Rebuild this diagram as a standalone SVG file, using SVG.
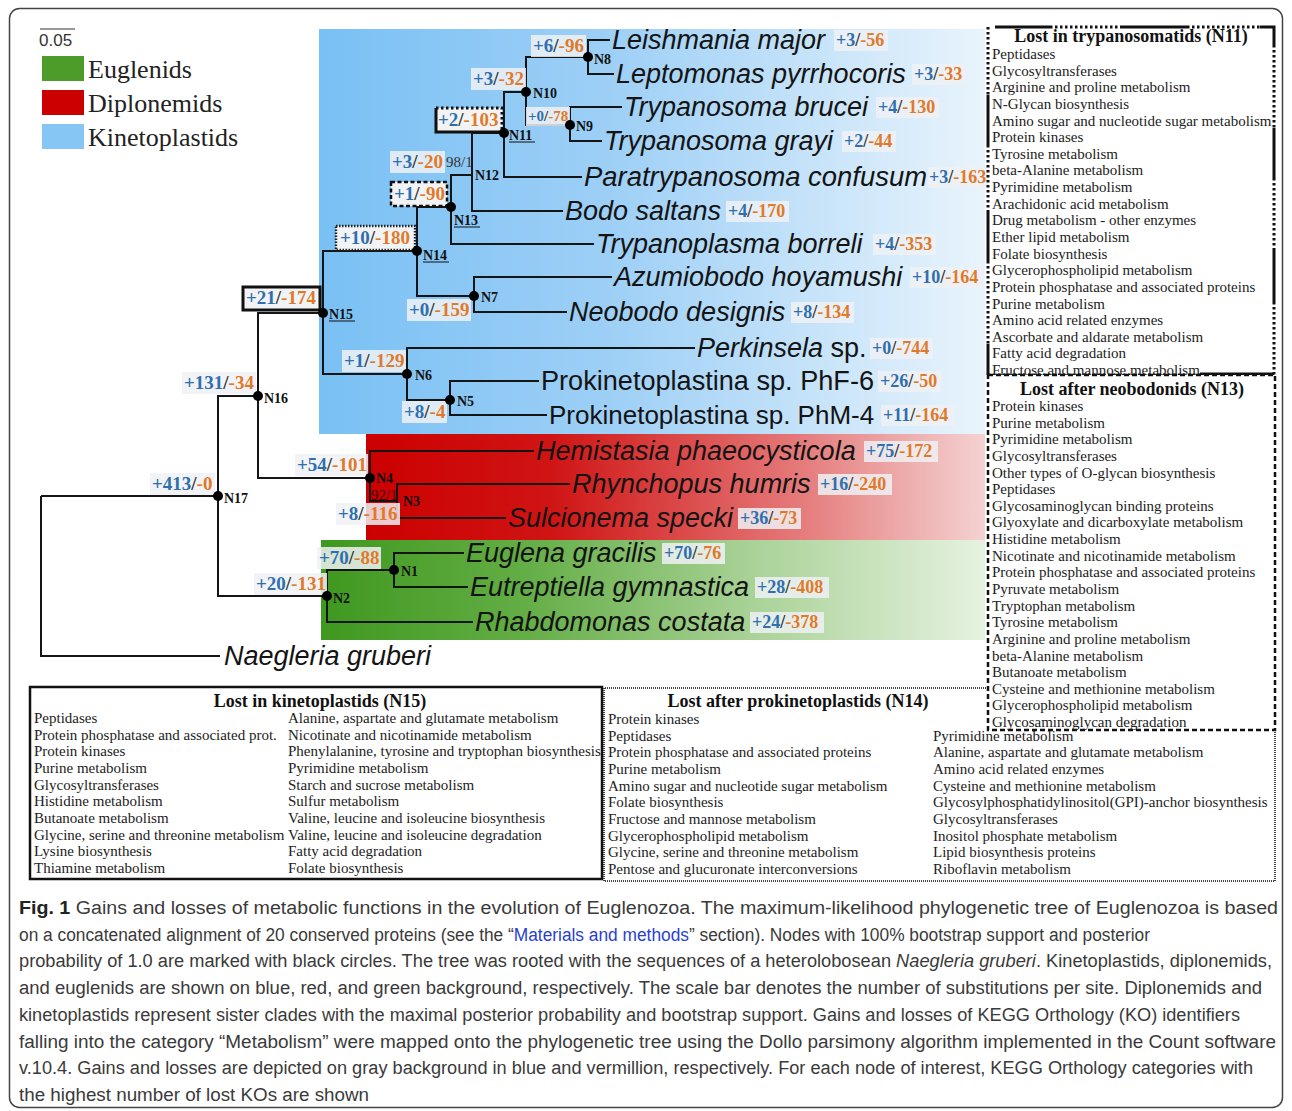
<svg xmlns="http://www.w3.org/2000/svg" width="1292" height="1111" viewBox="0 0 1292 1111">
<defs>
<linearGradient id="gBlue" gradientUnits="userSpaceOnUse" x1="319" y1="0" x2="985" y2="0">
<stop offset="0" stop-color="#79c0f4"/><stop offset="0.45" stop-color="#9fd0f6"/><stop offset="1" stop-color="#e9f4fc"/>
</linearGradient>
<linearGradient id="gRed" gradientUnits="userSpaceOnUse" x1="366" y1="0" x2="985" y2="0">
<stop offset="0" stop-color="#cc0000"/><stop offset="0.3" stop-color="#d01414"/><stop offset="0.7" stop-color="#e57a7a"/><stop offset="1" stop-color="#f4d2d2"/>
</linearGradient>
<linearGradient id="gGreen" gradientUnits="userSpaceOnUse" x1="321" y1="0" x2="985" y2="0">
<stop offset="0" stop-color="#3f981f"/><stop offset="0.3" stop-color="#62ad44"/><stop offset="0.65" stop-color="#a9d297"/><stop offset="1" stop-color="#e6f2e0"/>
</linearGradient>
<style>
.t{font-family:"Liberation Sans",Arial,sans-serif;font-style:italic;font-size:27px;fill:#141414}
.tn{font-style:normal}
.gl{font-family:"Liberation Serif","Times New Roman",serif;font-size:19px;font-weight:bold}
.tg{font-family:"Liberation Serif","Times New Roman",serif;font-size:18px;font-weight:bold}
.g{fill:#2f6fae}.l{fill:#e07a2a}.s{fill:#333}
.nn{font-family:"Liberation Serif","Times New Roman",serif;font-size:14px;font-weight:bold;fill:#111}
.bs{font-family:"Liberation Serif","Times New Roman",serif;font-size:15px;fill:#333}
.bx{font-family:"Liberation Serif","Times New Roman",serif;font-size:15px;fill:#222}
.bt{font-family:"Liberation Serif","Times New Roman",serif;font-size:18px;font-weight:bold;fill:#111;text-anchor:middle}
.lbg{fill:#eef1f4;fill-opacity:0.85}
.edge{fill:none;stroke:#151515;stroke-width:2}
.dot{fill:#000}
.ul{stroke:#111;stroke-width:1}
.cap{font-family:"Liberation Sans",Arial,sans-serif;font-size:18px;fill:#3a3a3a}
.leg{font-family:"Liberation Serif","Times New Roman",serif;font-size:26px;fill:#222}
.dotted{fill:none;stroke:#111;stroke-width:3;stroke-dasharray:2.5 2.5}
.solid{fill:none;stroke:#111;stroke-width:3}
</style>
</defs>
<rect x="0" y="0" width="1292" height="1111" fill="#fff"/>
<rect x="9.5" y="8.5" width="1273" height="1099" rx="10" fill="#fff" stroke="#444" stroke-width="1.5"/>

<!-- backgrounds -->
<g id="clade-backgrounds">
<rect x="319" y="29" width="666" height="405" fill="url(#gBlue)"/>
<rect x="366" y="434" width="619" height="106" fill="url(#gRed)"/>
<rect x="321" y="540" width="664" height="100" fill="url(#gGreen)"/>
</g>

<!-- legend -->
<g id="legend">
<line x1="40" y1="29" x2="75" y2="29" stroke="#333" stroke-width="1"/>
<text x="39" y="46" font-family="Liberation Sans, Arial, sans-serif" font-size="17" fill="#333">0.05</text>
<rect x="42" y="56" width="42" height="25" fill="#4d9c2a"/>
<text class="leg" x="88" y="78">Euglenids</text>
<rect x="42" y="90" width="42" height="25" fill="#cc0000"/>
<text class="leg" x="88" y="112">Diplonemids</text>
<rect x="42" y="124" width="42" height="25" fill="#86c6f4"/>
<text class="leg" x="88" y="146">Kinetoplastids</text>
</g>

<!-- connectors -->
<g id="connectors" class="edge">
<path d="M41,496 H218 M41,496 V656 H220"/>
<path d="M258,396 H218 V596 H327"/>
<path d="M323,313 H258 V478 H370"/>
<path d="M417,251 H323 V374 H407"/>
<path d="M451,207 H417 V296 H474"/>
<path d="M472,175 H451 V244 H594"/>
<path d="M504,133 H472 V211 H563"/>
<path d="M526,92 H504 V177 H582"/>
<path d="M588,57 H526 V125 H570"/>
<path d="M622,107 H570 V141 H602"/>
<path d="M610,40 H588 V74 H614"/>
<path d="M612,277 H474 V312 H567"/>
<path d="M695,348 H407 V400 H450"/>
<path d="M539,381 H450 V415 H547"/>
<path d="M534,451 H370 V501 H397"/>
<path d="M570,484 H397 V518 H506"/>
<path d="M394,570 H327 V622 H473"/>
<path d="M464,553 H394 V587 H468"/>
</g>

<!-- internal nodes -->
<g id="N17">
<rect class="lbg" x="150" y="473" width="65" height="22"/>
<text class="gl" x="152" y="490"><tspan class="g">+413</tspan><tspan class="s">/</tspan><tspan class="l">-0</tspan></text>
<circle class="dot" cx="218" cy="496" r="5"/>
<text class="nn" x="224" y="503">N17</text>
</g>
<g id="N16">
<rect class="lbg" x="182" y="372" width="74" height="22"/>
<text class="gl" x="184" y="389"><tspan class="g">+131</tspan><tspan class="s">/</tspan><tspan class="l">-34</tspan></text>
<circle class="dot" cx="258" cy="396" r="5"/>
<text class="nn" x="264" y="403">N16</text>
</g>
<g id="N15">
<rect x="243" y="287" width="77" height="23" fill="#f2f3f5" stroke="#111" stroke-width="3"/>
<text class="gl" x="246" y="304"><tspan class="g">+21</tspan><tspan class="s">/</tspan><tspan class="l">-174</tspan></text>
<circle class="dot" cx="323" cy="313" r="5"/>
<text class="nn" x="329" y="319">N15</text>
<line class="ul" x1="329" y1="321" x2="355" y2="321"/>
</g>
<g id="N14">
<rect x="336" y="226" width="79" height="24" fill="#f2f3f5" stroke="#222" stroke-width="2.5" stroke-dasharray="1.5 1.5"/>
<text class="gl" x="340" y="244"><tspan class="g">+10</tspan><tspan class="s">/</tspan><tspan class="l">-180</tspan></text>
<circle class="dot" cx="417" cy="251" r="5"/>
<text class="nn" x="423" y="260">N14</text>
<line class="ul" x1="423" y1="262" x2="449" y2="262"/>
</g>
<g id="N13">
<rect x="391" y="182" width="56" height="24" fill="#f2f3f5" stroke="#111" stroke-width="2.5" stroke-dasharray="4 2.5"/>
<text class="gl" x="394" y="200"><tspan class="g">+1</tspan><tspan class="s">/</tspan><tspan class="l">-90</tspan></text>
<circle class="dot" cx="451" cy="207" r="5"/>
<text class="nn" x="454" y="225">N13</text>
<line class="ul" x1="454" y1="227" x2="480" y2="227"/>
</g>
<g id="N12">
<rect class="lbg" x="390" y="151" width="55" height="22"/>
<text class="gl" x="392" y="168"><tspan class="g">+3</tspan><tspan class="s">/</tspan><tspan class="l">-20</tspan></text>
<text class="bs" x="446" y="167">98/1</text>
<text class="nn" x="475" y="180">N12</text>
</g>
<g id="N11">
<rect x="436" y="108" width="66" height="24" fill="#f2f3f5"/>
<path class="dotted" d="M436,108 H502 V132"/>
<path class="solid" d="M436,108 V132 H502"/>
<text class="gl" x="438" y="126"><tspan class="g">+2</tspan><tspan class="s">/</tspan><tspan class="l">-103</tspan></text>
<circle class="dot" cx="504" cy="133" r="5"/>
<text class="nn" x="509" y="140">N11</text>
<line class="ul" x1="509" y1="142" x2="535" y2="142"/>
</g>
<g id="N10">
<rect class="lbg" x="471" y="68" width="55" height="22"/>
<text class="gl" x="473" y="85"><tspan class="g">+3</tspan><tspan class="s">/</tspan><tspan class="l">-32</tspan></text>
<circle class="dot" cx="526" cy="92" r="5"/>
<text class="nn" x="533" y="98">N10</text>
</g>
<g id="N9">
<rect class="lbg" x="526" y="107" width="44" height="19"/>
<text class="gl" x="528" y="121" style="font-size:15px"><tspan class="g">+0</tspan><tspan class="s">/</tspan><tspan class="l">-78</tspan></text>
<circle class="dot" cx="570" cy="125" r="5"/>
<text class="nn" x="576" y="131">N9</text>
</g>
<g id="N8">
<rect class="lbg" x="531" y="35" width="55" height="22"/>
<text class="gl" x="533" y="52"><tspan class="g">+6</tspan><tspan class="s">/</tspan><tspan class="l">-96</tspan></text>
<circle class="dot" cx="588" cy="57" r="5"/>
<text class="nn" x="594" y="64">N8</text>
</g>
<g id="N7">
<rect class="lbg" x="407" y="299" width="64" height="22"/>
<text class="gl" x="409" y="316"><tspan class="g">+0</tspan><tspan class="s">/</tspan><tspan class="l">-159</tspan></text>
<circle class="dot" cx="474" cy="296" r="5"/>
<text class="nn" x="481" y="302">N7</text>
</g>
<g id="N6">
<rect class="lbg" x="342" y="350" width="64" height="22"/>
<text class="gl" x="344" y="367"><tspan class="g">+1</tspan><tspan class="s">/</tspan><tspan class="l">-129</tspan></text>
<circle class="dot" cx="407" cy="374" r="5"/>
<text class="nn" x="415" y="380">N6</text>
</g>
<g id="N5">
<rect class="lbg" x="402" y="401" width="45" height="22"/>
<text class="gl" x="404" y="418"><tspan class="g">+8</tspan><tspan class="s">/</tspan><tspan class="l">-4</tspan></text>
<circle class="dot" cx="450" cy="400" r="5"/>
<text class="nn" x="457" y="406">N5</text>
</g>
<g id="N4">
<rect class="lbg" x="295" y="454" width="73" height="22"/>
<text class="gl" x="297" y="471"><tspan class="g">+54</tspan><tspan class="s">/</tspan><tspan class="l">-101</tspan></text>
<circle class="dot" cx="370" cy="478" r="5"/>
<text class="nn" x="376" y="483">N4</text>
</g>
<g id="N3">
<rect class="lbg" x="336" y="503" width="64" height="22"/>
<text class="gl" x="338" y="520"><tspan class="g">+8</tspan><tspan class="s">/</tspan><tspan class="l">-116</tspan></text>
<text class="bs" x="371" y="500" style="fill:#3a0000">92/1</text>
<text class="nn" x="403" y="506">N3</text>
</g>
<g id="N2">
<rect class="lbg" x="254" y="573" width="73" height="22"/>
<text class="gl" x="256" y="590"><tspan class="g">+20</tspan><tspan class="s">/</tspan><tspan class="l">-131</tspan></text>
<circle class="dot" cx="327" cy="596" r="5"/>
<text class="nn" x="333" y="603">N2</text>
</g>
<g id="N1">
<rect class="lbg" x="317" y="547" width="64" height="22"/>
<text class="gl" x="319" y="564"><tspan class="g">+70</tspan><tspan class="s">/</tspan><tspan class="l">-88</tspan></text>
<circle class="dot" cx="394" cy="570" r="5"/>
<text class="nn" x="401" y="576">N1</text>
</g>

<!-- tips -->
<g id="tip-leishmania"><text class="t" x="612" y="49">Leishmania major</text>
<rect class="lbg" x="834" y="30" width="54" height="21"/><text class="tg" x="836" y="46"><tspan class="g">+3</tspan><tspan class="s">/</tspan><tspan class="l">-56</tspan></text></g>
<g id="tip-leptomonas"><text class="t" x="616" y="83">Leptomonas pyrrhocoris</text>
<rect class="lbg" x="912" y="64" width="54" height="21"/><text class="tg" x="914" y="80"><tspan class="g">+3</tspan><tspan class="s">/</tspan><tspan class="l">-33</tspan></text></g>
<g id="tip-brucei"><text class="t" x="624" y="116">Trypanosoma brucei</text>
<rect class="lbg" x="876" y="97" width="63" height="21"/><text class="tg" x="878" y="113"><tspan class="g">+4</tspan><tspan class="s">/</tspan><tspan class="l">-130</tspan></text></g>
<g id="tip-grayi"><text class="t" x="604" y="150">Trypanosoma grayi</text>
<rect class="lbg" x="842" y="131" width="54" height="21"/><text class="tg" x="844" y="147"><tspan class="g">+2</tspan><tspan class="s">/</tspan><tspan class="l">-44</tspan></text></g>
<g id="tip-paratrypanosoma"><text class="t" x="584" y="186" textLength="343" lengthAdjust="spacingAndGlyphs">Paratrypanosoma confusum</text>
<rect class="lbg" x="928" y="167" width="60" height="21"/><text class="tg" x="929" y="183"><tspan class="g">+3</tspan><tspan class="s">/</tspan><tspan class="l">-163</tspan></text></g>
<g id="tip-bodo"><text class="t" x="565" y="220">Bodo saltans</text>
<rect class="lbg" x="726" y="201" width="63" height="21"/><text class="tg" x="728" y="217"><tspan class="g">+4</tspan><tspan class="s">/</tspan><tspan class="l">-170</tspan></text></g>
<g id="tip-trypanoplasma"><text class="t" x="596" y="253">Trypanoplasma borreli</text>
<rect class="lbg" x="873" y="234" width="63" height="21"/><text class="tg" x="875" y="250"><tspan class="g">+4</tspan><tspan class="s">/</tspan><tspan class="l">-353</tspan></text></g>
<g id="tip-azumiobodo"><text class="t" x="614" y="286">Azumiobodo hoyamushi</text>
<rect class="lbg" x="910" y="267" width="74" height="21"/><text class="tg" x="912" y="283"><tspan class="g">+10</tspan><tspan class="s">/</tspan><tspan class="l">-164</tspan></text></g>
<g id="tip-neobodo"><text class="t" x="569" y="321">Neobodo designis</text>
<rect class="lbg" x="791" y="302" width="63" height="21"/><text class="tg" x="793" y="318"><tspan class="g">+8</tspan><tspan class="s">/</tspan><tspan class="l">-134</tspan></text></g>
<g id="tip-perkinsela"><text class="t" x="697" y="357">Perkinsela <tspan class="tn">sp.</tspan></text>
<rect class="lbg" x="870" y="338" width="63" height="21"/><text class="tg" x="872" y="354"><tspan class="g">+0</tspan><tspan class="s">/</tspan><tspan class="l">-744</tspan></text></g>
<g id="tip-phf6"><text class="t tn" x="541" y="390" textLength="333" lengthAdjust="spacingAndGlyphs">Prokinetoplastina sp. PhF-6</text>
<rect class="lbg" x="878" y="371" width="63" height="21"/><text class="tg" x="880" y="387"><tspan class="g">+26</tspan><tspan class="s">/</tspan><tspan class="l">-50</tspan></text></g>
<g id="tip-phm4"><text class="t tn" x="549" y="424" style="font-size:26px">Prokinetoplastina sp. PhM-4</text>
<rect class="lbg" x="881" y="405" width="74" height="21"/><text class="tg" x="883" y="421"><tspan class="g">+11</tspan><tspan class="s">/</tspan><tspan class="l">-164</tspan></text></g>
<g id="tip-hemistasia"><text class="t" x="536" y="460">Hemistasia phaeocysticola</text>
<rect class="lbg" x="864" y="441" width="74" height="21"/><text class="tg" x="866" y="457"><tspan class="g">+75</tspan><tspan class="s">/</tspan><tspan class="l">-172</tspan></text></g>
<g id="tip-rhynchopus"><text class="t" x="572" y="493">Rhynchopus humris</text>
<rect class="lbg" x="818" y="474" width="74" height="21"/><text class="tg" x="820" y="490"><tspan class="g">+16</tspan><tspan class="s">/</tspan><tspan class="l">-240</tspan></text></g>
<g id="tip-sulcionema"><text class="t" x="508" y="527">Sulcionema specki</text>
<rect class="lbg" x="738" y="508" width="63" height="21"/><text class="tg" x="740" y="524"><tspan class="g">+36</tspan><tspan class="s">/</tspan><tspan class="l">-73</tspan></text></g>
<g id="tip-euglena"><text class="t" x="466" y="562">Euglena gracilis</text>
<rect class="lbg" x="662" y="543" width="63" height="21"/><text class="tg" x="664" y="559"><tspan class="g">+70</tspan><tspan class="s">/</tspan><tspan class="l">-76</tspan></text></g>
<g id="tip-eutreptiella"><text class="t" x="470" y="596">Eutreptiella gymnastica</text>
<rect class="lbg" x="755" y="577" width="74" height="21"/><text class="tg" x="757" y="593"><tspan class="g">+28</tspan><tspan class="s">/</tspan><tspan class="l">-408</tspan></text></g>
<g id="tip-rhabdomonas"><text class="t" x="475" y="631">Rhabdomonas costata</text>
<rect class="lbg" x="750" y="612" width="74" height="21"/><text class="tg" x="752" y="628"><tspan class="g">+24</tspan><tspan class="s">/</tspan><tspan class="l">-378</tspan></text></g>
<g id="tip-naegleria"><text class="t" x="224" y="665">Naegleria gruberi</text></g>

<!-- Box N11 -->
<g id="box-N11">
<rect x="988" y="27" width="287" height="348" fill="#fff"/>
<path class="dotted" d="M988,27 V95 M988,145 V211 M988,261 V344 M1050,27 H1120 M1187,27 H1260 M1274,45 V128 M1274,178 V248 M1274,302 V375 M988,375 H1200"/>
<path class="solid" d="M988,95 V145 M988,211 V261 M988,344 V375 M995,27 H1050 M1120,27 H1187 M1260,27 H1274 V45 M1274,128 V178 M1274,248 V302 M1200,374 H1274"/>
<text class="bt" x="1131" y="42">Lost in trypanosomatids (N11)</text>
<g class="bx">
<text x="992" y="59">Peptidases</text>
<text x="992" y="75.6">Glycosyltransferases</text>
<text x="992" y="92.3">Arginine and proline metabolism</text>
<text x="992" y="108.9">N-Glycan biosynthesis</text>
<text x="992" y="125.5">Amino sugar and nucleotide sugar metabolism</text>
<text x="992" y="142.2">Protein kinases</text>
<text x="992" y="158.8">Tyrosine metabolism</text>
<text x="992" y="175.4">beta-Alanine metabolism</text>
<text x="992" y="192">Pyrimidine metabolism</text>
<text x="992" y="208.7">Arachidonic acid metabolism</text>
<text x="992" y="225.3">Drug metabolism - other enzymes</text>
<text x="992" y="241.9">Ether lipid metabolism</text>
<text x="992" y="258.6">Folate biosynthesis</text>
<text x="992" y="275.2">Glycerophospholipid metabolism</text>
<text x="992" y="291.8">Protein phosphatase and associated proteins</text>
<text x="992" y="308.5">Purine metabolism</text>
<text x="992" y="325.1">Amino acid related enzymes</text>
<text x="992" y="341.7">Ascorbate and aldarate metabolism</text>
<text x="992" y="358.3">Fatty acid degradation</text>
<text x="992" y="375">Fructose and mannose metabolism</text>
</g>
</g>

<!-- Box N14 -->
<g id="box-N14">
<path d="M988,688 H604 V881 H1275 V730" fill="none" stroke="#444" stroke-width="2" stroke-dasharray="1 1"/>
<text class="bt" x="798" y="707">Lost after prokinetoplastids (N14)</text>
<g class="bx">
<text x="608" y="724">Protein kinases</text>
<text x="608" y="740.7">Peptidases</text>
<text x="608" y="757.3">Protein phosphatase and associated proteins</text>
<text x="608" y="774">Purine metabolism</text>
<text x="608" y="790.7">Amino sugar and nucleotide sugar metabolism</text>
<text x="608" y="807.3">Folate biosynthesis</text>
<text x="608" y="824">Fructose and mannose metabolism</text>
<text x="608" y="840.7">Glycerophospholipid metabolism</text>
<text x="608" y="857.3">Glycine, serine and threonine metabolism</text>
<text x="608" y="874">Pentose and glucuronate interconversions</text>
<text x="933" y="740.7">Pyrimidine metabolism</text>
<text x="933" y="757.3">Alanine, aspartate and glutamate metabolism</text>
<text x="933" y="774">Amino acid related enzymes</text>
<text x="933" y="790.7">Cysteine and methionine metabolism</text>
<text x="933" y="807.3">Glycosylphosphatidylinositol(GPI)-anchor biosynthesis</text>
<text x="933" y="824">Glycosyltransferases</text>
<text x="933" y="840.7">Inositol phosphate metabolism</text>
<text x="933" y="857.3">Lipid biosynthesis proteins</text>
<text x="933" y="874">Riboflavin metabolism</text>
</g>
</g>

<!-- Box N13 -->
<g id="box-N13">
<rect x="988" y="375" width="287" height="355" fill="#fff" stroke="#111" stroke-width="2.5" stroke-dasharray="5 3"/>
<text class="bt" x="1132" y="395">Lost after neobodonids (N13)</text>
<g class="bx">
<text x="992" y="411">Protein kinases</text>
<text x="992" y="427.6">Purine metabolism</text>
<text x="992" y="444.3">Pyrimidine metabolism</text>
<text x="992" y="460.9">Glycosyltransferases</text>
<text x="992" y="477.5">Other types of O-glycan biosynthesis</text>
<text x="992" y="494.2">Peptidases</text>
<text x="992" y="510.8">Glycosaminoglycan binding proteins</text>
<text x="992" y="527.4">Glyoxylate and dicarboxylate metabolism</text>
<text x="992" y="544">Histidine metabolism</text>
<text x="992" y="560.7">Nicotinate and nicotinamide metabolism</text>
<text x="992" y="577.3">Protein phosphatase and associated proteins</text>
<text x="992" y="593.9">Pyruvate metabolism</text>
<text x="992" y="610.6">Tryptophan metabolism</text>
<text x="992" y="627.2">Tyrosine metabolism</text>
<text x="992" y="643.8">Arginine and proline metabolism</text>
<text x="992" y="660.5">beta-Alanine metabolism</text>
<text x="992" y="677.1">Butanoate metabolism</text>
<text x="992" y="693.7">Cysteine and methionine metabolism</text>
<text x="992" y="710.3">Glycerophospholipid metabolism</text>
<text x="992" y="727">Glycosaminoglycan degradation</text>
</g>
</g>

<!-- Box N15 -->
<g id="box-N15">
<rect x="30" y="687" width="572" height="192" fill="#fff" stroke="#111" stroke-width="2.5"/>
<text class="bt" x="320" y="707">Lost in kinetoplastids (N15)</text>
<g class="bx">
<text x="34" y="723">Peptidases</text>
<text x="34" y="739.7">Protein phosphatase and associated prot.</text>
<text x="34" y="756.3">Protein kinases</text>
<text x="34" y="773">Purine metabolism</text>
<text x="34" y="789.7">Glycosyltransferases</text>
<text x="34" y="806.3">Histidine metabolism</text>
<text x="34" y="823">Butanoate metabolism</text>
<text x="34" y="839.7">Glycine, serine and threonine metabolism</text>
<text x="34" y="856.3">Lysine biosynthesis</text>
<text x="34" y="873">Thiamine metabolism</text>
<text x="288" y="723">Alanine, aspartate and glutamate metabolism</text>
<text x="288" y="739.7">Nicotinate and nicotinamide metabolism</text>
<text x="288" y="756.3">Phenylalanine, tyrosine and tryptophan biosynthesis</text>
<text x="288" y="773">Pyrimidine metabolism</text>
<text x="288" y="789.7">Starch and sucrose metabolism</text>
<text x="288" y="806.3">Sulfur metabolism</text>
<text x="288" y="823">Valine, leucine and isoleucine biosynthesis</text>
<text x="288" y="839.7">Valine, leucine and isoleucine degradation</text>
<text x="288" y="856.3">Fatty acid degradation</text>
<text x="288" y="873">Folate biosynthesis</text>
</g>
</g>

<!-- caption -->
<g id="caption" class="cap">
<text x="19" y="914" textLength="1259" lengthAdjust="spacingAndGlyphs"><tspan font-weight="bold" fill="#222">Fig. 1</tspan> Gains and losses of metabolic functions in the evolution of Euglenozoa. The maximum-likelihood phylogenetic tree of Euglenozoa is based</text>
<text x="19" y="940.7" textLength="1131" lengthAdjust="spacingAndGlyphs">on a concatenated alignment of 20 conserved proteins (see the “<tspan fill="#2a3fd6">Materials and methods</tspan>” section). Nodes with 100% bootstrap support and posterior</text>
<text x="19" y="967.4" textLength="1253" lengthAdjust="spacingAndGlyphs">probability of 1.0 are marked with black circles. The tree was rooted with the sequences of a heterolobosean <tspan font-style="italic">Naegleria gruberi</tspan>. Kinetoplastids, diplonemids,</text>
<text x="19" y="994.1" textLength="1243" lengthAdjust="spacingAndGlyphs">and euglenids are shown on blue, red, and green background, respectively. The scale bar denotes the number of substitutions per site. Diplonemids and</text>
<text x="19" y="1020.8" textLength="1221" lengthAdjust="spacingAndGlyphs">kinetoplastids represent sister clades with the maximal posterior probability and bootstrap support. Gains and losses of KEGG Orthology (KO) identifiers</text>
<text x="19" y="1047.5" textLength="1257" lengthAdjust="spacingAndGlyphs">falling into the category “Metabolism” were mapped onto the phylogenetic tree using the Dollo parsimony algorithm implemented in the Count software</text>
<text x="19" y="1074.2" textLength="1234" lengthAdjust="spacingAndGlyphs">v.10.4. Gains and losses are depicted on gray background in blue and vermillion, respectively. For each node of interest, KEGG Orthology categories with</text>
<text x="19" y="1100.9" textLength="350" lengthAdjust="spacingAndGlyphs">the highest number of lost KOs are shown</text>
</g>
</svg>
